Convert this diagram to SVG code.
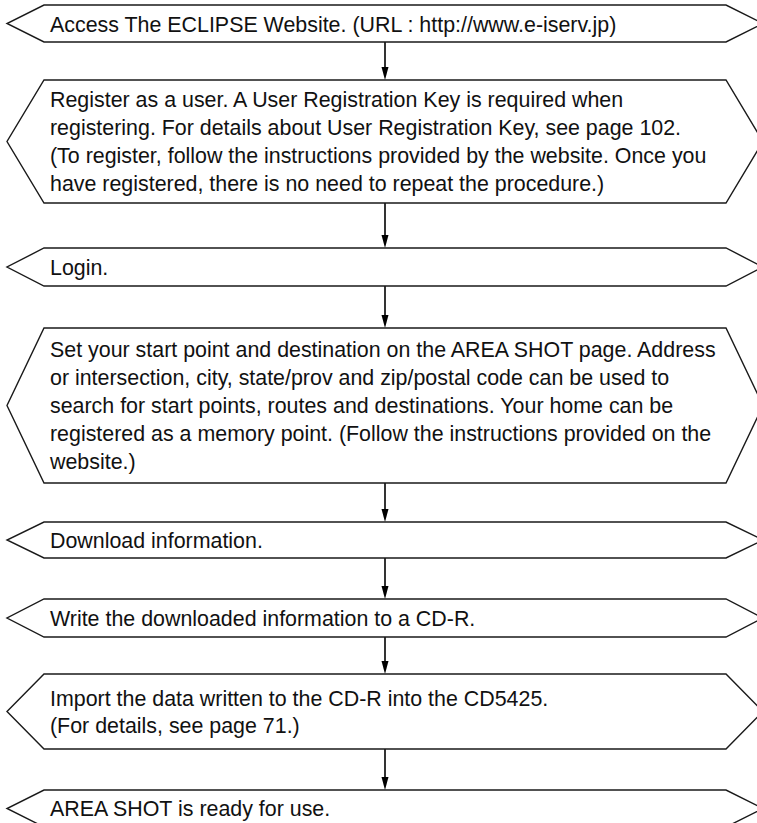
<svg xmlns="http://www.w3.org/2000/svg" width="757" height="823" viewBox="0 0 757 823">
  <style>
    .box { fill: #ffffff; stroke: #1a1a1a; stroke-width: 1.4; }
    .t { font-family: "Liberation Sans", Arial, sans-serif; font-size: 22.6px; fill: #111111; }
    .c { stroke: #000000; stroke-width: 1.6; fill: none; }
    .ah { fill: #000000; }
  </style>
  <rect width="757" height="823" fill="#ffffff"/>

  <g id="connectors">
    <path class="c" d="M385,42 V68"/><path class="ah" d="M381.5,67 L388.5,67 L385,80 Z"/>
    <path class="c" d="M385,203 V236"/><path class="ah" d="M381.5,235 L388.5,235 L385,248 Z"/>
    <path class="c" d="M385,286 V316"/><path class="ah" d="M381.5,315 L388.5,315 L385,328 Z"/>
    <path class="c" d="M385,483 V510"/><path class="ah" d="M381.5,509 L388.5,509 L385,522 Z"/>
    <path class="c" d="M385,558 V587"/><path class="ah" d="M381.5,586 L388.5,586 L385,599 Z"/>
    <path class="c" d="M385,637 V662"/><path class="ah" d="M381.5,661 L388.5,661 L385,674 Z"/>
    <path class="c" d="M385,749 V778"/><path class="ah" d="M381.5,777 L388.5,777 L385,790 Z"/>
  </g>

  <g id="n1">
    <polygon class="box" points="44,5 726,5 763,23.5 726,42 44,42 7,23.5"/>
    <text class="t" transform="matrix(0.947,0,0,1,2.65,0)" x="50" y="32">Access The ECLIPSE Website. (URL : http://www.e-iserv.jp)</text>
  </g>

  <g id="n2">
    <polygon class="box" points="44,80 726,80 763,141.5 726,203 44,203 7,141.5"/>
    <g transform="matrix(0.947,0,0,1,2.65,0)">
      <text class="t" x="50" y="107">Register as a user. A User Registration Key is required when</text>
      <text class="t" x="50" y="135">registering. For details about User Registration Key, see page 102.</text>
      <text class="t" x="50" y="163">(To register, follow the instructions provided by the website. Once you</text>
      <text class="t" x="50" y="191">have registered, there is no need to repeat the procedure.)</text>
    </g>
  </g>

  <g id="n3">
    <polygon class="box" points="44,248 726,248 763,267 726,286 44,286 7,267"/>
    <text class="t" transform="matrix(0.947,0,0,1,2.65,0)" x="50" y="275">Login.</text>
  </g>

  <g id="n4">
    <polygon class="box" points="44,328 726,328 763,405.5 726,483 44,483 7,405.5"/>
    <g transform="matrix(0.947,0,0,1,2.65,0)">
      <text class="t" x="50" y="357">Set your start point and destination on the AREA SHOT page. Address</text>
      <text class="t" x="50" y="385">or intersection, city, state/prov and zip/postal code can be used to</text>
      <text class="t" x="50" y="413">search for start points, routes and destinations. Your home can be</text>
      <text class="t" x="50" y="441">registered as a memory point. (Follow the instructions provided on the</text>
      <text class="t" x="50" y="469">website.)</text>
    </g>
  </g>

  <g id="n5">
    <polygon class="box" points="44,522 726,522 763,540 726,558 44,558 7,540"/>
    <text class="t" transform="matrix(0.947,0,0,1,2.65,0)" x="50" y="548">Download information.</text>
  </g>

  <g id="n6">
    <polygon class="box" points="44,599 726,599 763,618 726,637 44,637 7,618"/>
    <text class="t" transform="matrix(0.947,0,0,1,2.65,0)" x="50" y="626">Write the downloaded information to a CD-R.</text>
  </g>

  <g id="n7">
    <polygon class="box" points="44,674 726,674 763,711.5 726,749 44,749 7,711.5"/>
    <g transform="matrix(0.947,0,0,1,2.65,0)">
      <text class="t" x="50" y="706">Import the data written to the CD-R into the CD5425.</text>
      <text class="t" x="50" y="733">(For details, see page 71.)</text>
    </g>
  </g>

  <g id="n8">
    <polygon class="box" points="44,790 726,790 763,808.5 726,827 44,827 7,808.5"/>
    <text class="t" transform="matrix(0.947,0,0,1,2.65,0)" x="50" y="816">AREA SHOT is ready for use.</text>
  </g>
</svg>
